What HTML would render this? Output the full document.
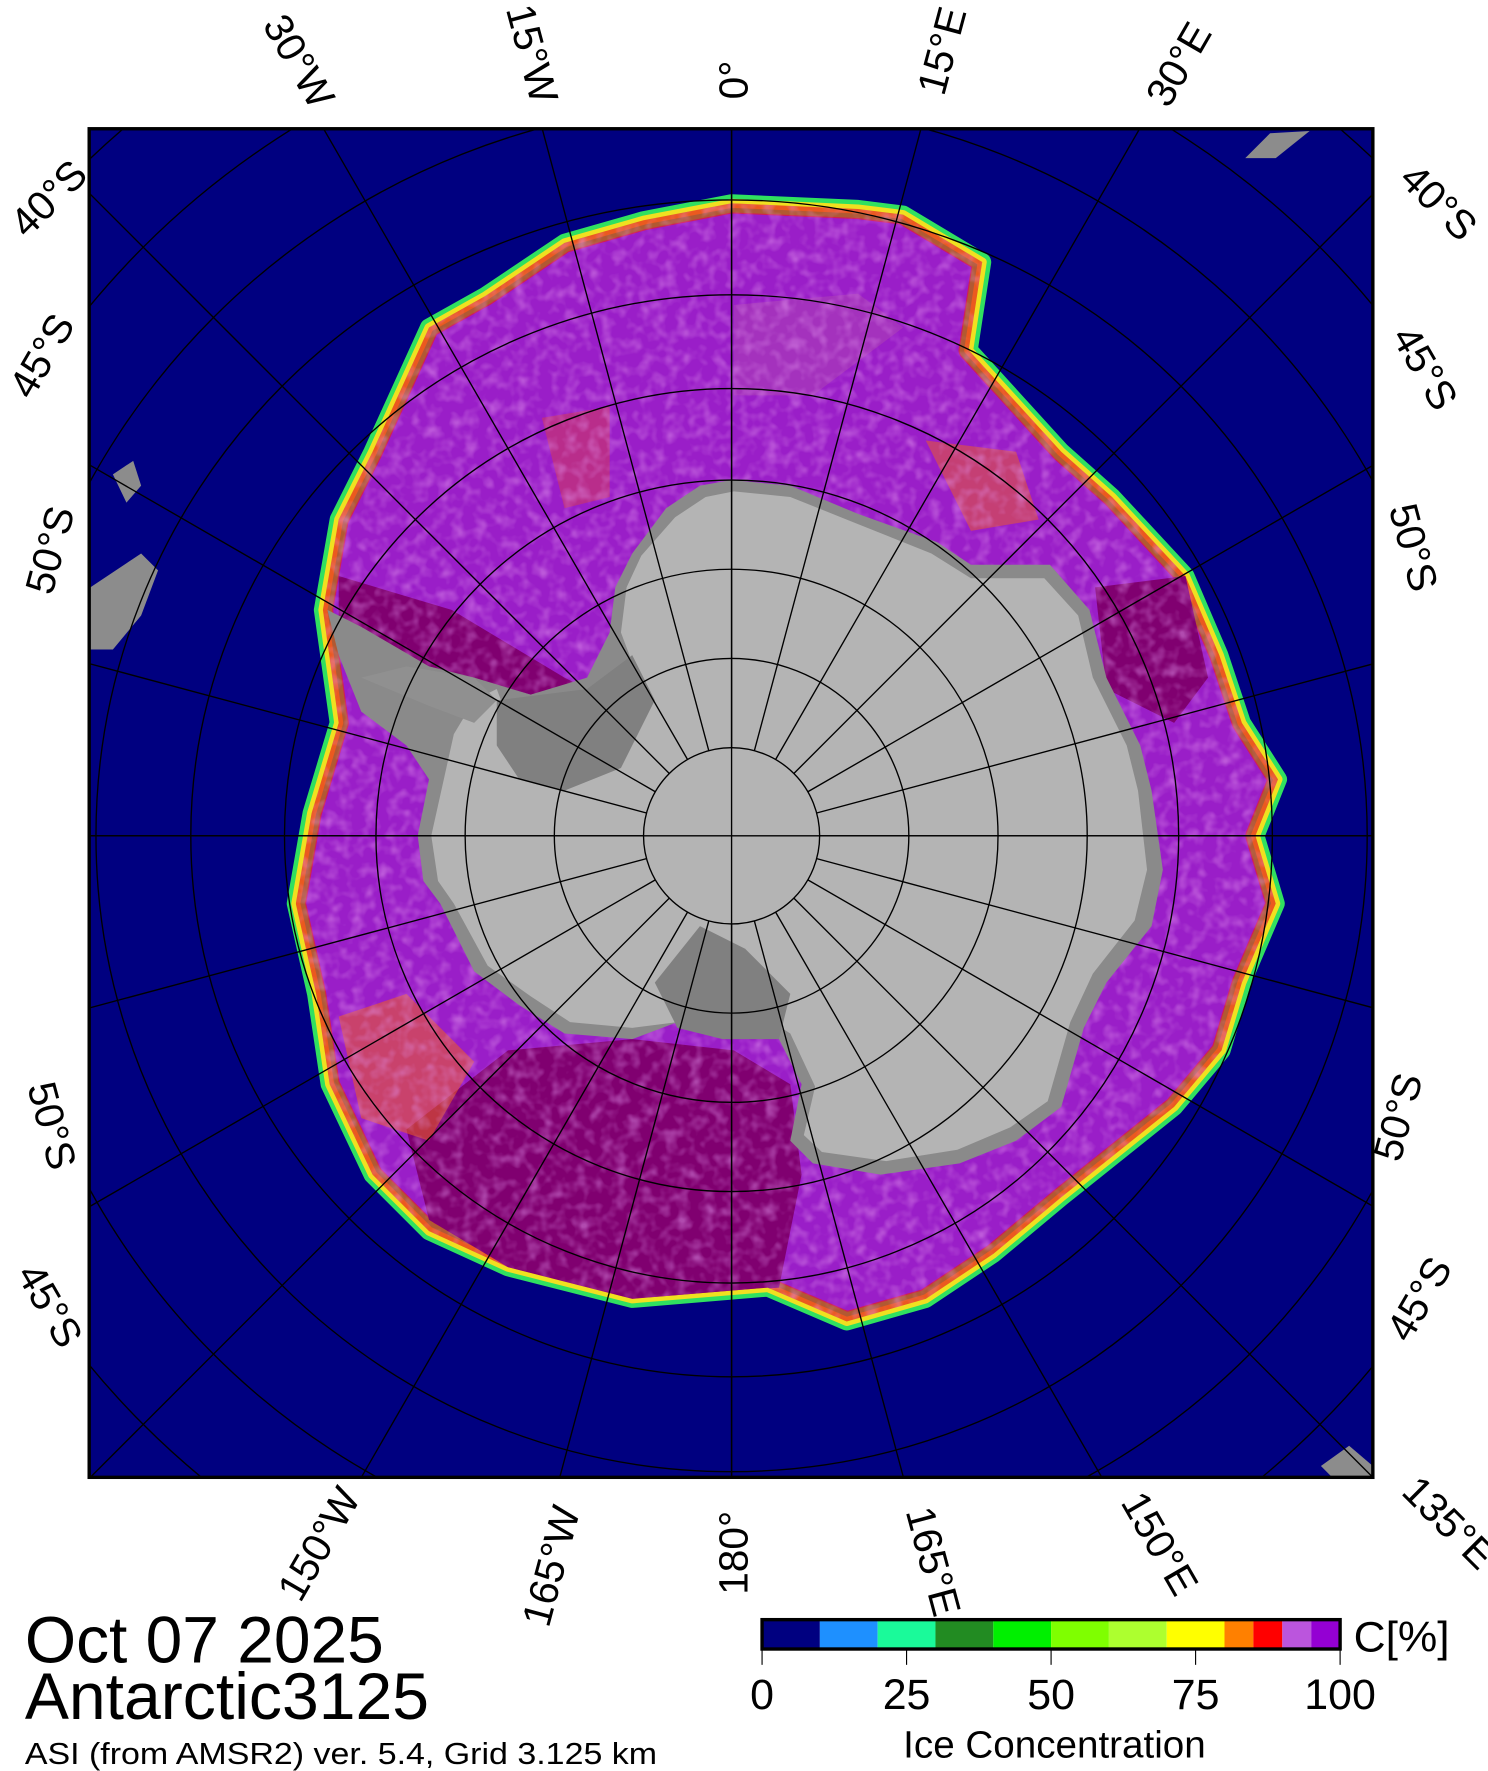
<!DOCTYPE html>
<html><head><meta charset="utf-8"><style>
html,body{margin:0;padding:0;background:#fff;overflow:hidden;width:1488px;height:1771px}
svg{display:block}
text{font-family:"Liberation Sans",sans-serif;fill:#000}
</style></head><body>
<svg width="1488" height="1771" viewBox="0 0 1318 1568" preserveAspectRatio="none" xmlns="http://www.w3.org/2000/svg">
<defs>
<clipPath id="frame"><rect x="79" y="114" width="1137" height="1194"/></clipPath>
<filter id="tex" x="0" y="0" width="100%" height="100%">
<feTurbulence type="fractalNoise" baseFrequency="0.09" numOctaves="2" seed="4"/>
<feColorMatrix type="matrix" values="0 0 0 0 0.75  0 0 0 0 0.3  0 0 0 0 0.85  0 0 0 -2.2 1.25"/>
</filter>
<clipPath id="iceclip"><polygon points="648,180 760,185 800,190 870,232 858,310 940,400 985,440 1050,510 1080,580 1100,640 1132,690 1112,740 1130,800 1100,870 1082,930 1040,980 990,1020 940,1060 880,1110 820,1150 750,1170 680,1140 560,1150 450,1122 380,1090 330,1040 292,960 280,880 262,800 276,720 300,640 286,540 300,460 330,400 380,290 430,262 500,215 570,195"/></clipPath>
</defs>
<rect width="1318" height="1568" fill="#fff"/>
<g clip-path="url(#frame)">
<rect x="79" y="114" width="1137" height="1194" fill="#000080"/>
<polygon points="80,520 125,490 140,505 125,545 100,575 80,575" fill="#8c8c8c"/>
<polygon points="100,420 118,408 125,430 112,445" fill="#8c8c8c"/>
<polygon points="1103,140 1125,118 1160,116 1130,140" fill="#8c8c8c"/>
<polygon points="1170,1298 1195,1280 1216,1298 1216,1308 1180,1308" fill="#8c8c8c"/>
<g>
<polygon points="648,180 760,185 800,190 870,232 858,310 940,400 985,440 1050,510 1080,580 1100,640 1132,690 1112,740 1130,800 1100,870 1082,930 1040,980 990,1020 940,1060 880,1110 820,1150 750,1170 680,1140 560,1150 450,1122 380,1090 330,1040 292,960 280,880 262,800 276,720 300,640 286,540 300,460 330,400 380,290 430,262 500,215 570,195" fill="#9a1ec8" stroke="#30e060" stroke-width="16" stroke-linejoin="round"/>
<polygon points="648,180 760,185 800,190 870,232 858,310 940,400 985,440 1050,510 1080,580 1100,640 1132,690 1112,740 1130,800 1100,870 1082,930 1040,980 990,1020 940,1060 880,1110 820,1150 750,1170 680,1140 560,1150 450,1122 380,1090 330,1040 292,960 280,880 262,800 276,720 300,640 286,540 300,460 330,400 380,290 430,262 500,215 570,195" fill="none" stroke="#f0e020" stroke-width="8" stroke-linejoin="round"/>
<g clip-path="url(#iceclip)">
<polygon points="648,180 760,185 800,190 870,232 858,310 940,400 985,440 1050,510 1080,580 1100,640 1132,690 1112,740 1130,800 1100,870 1082,930 1040,980 990,1020 940,1060 880,1110 820,1150 750,1170 680,1140 560,1150 450,1122 380,1090 330,1040 292,960 280,880 262,800 276,720 300,640 286,540 300,460 330,400 380,290 430,262 500,215 570,195" fill="none" stroke="#e82020" stroke-width="18" stroke-linejoin="round" opacity="0.7"/>
<polygon points="300,510 400,540 500,600 520,610 470,615 380,590 300,560" fill="#800070"/>
<polygon points="360,1000 450,930 560,920 650,930 700,960 710,1040 690,1140 560,1150 450,1122 380,1080" fill="#800070"/>
<polygon points="970,520 1050,510 1070,600 1040,640 980,610" fill="#800070"/>
<polygon points="650,270 760,260 800,290 720,350 650,350" fill="#a83ab8" opacity="0.7"/>
<polygon points="300,900 360,880 420,940 380,1010 320,990" fill="#f06020" opacity="0.55"/>
<polygon points="820,390 900,400 920,460 860,470" fill="#f06020" opacity="0.5"/>
<polygon points="480,370 540,360 540,440 500,450" fill="#e04040" opacity="0.45"/>
<rect x="79" y="114" width="1137" height="1194" filter="url(#tex)" opacity="0.5"/>
</g>
</g>
<polygon points="648,425 700,430 760,455 830,480 860,500 930,500 965,540 980,600 1010,660 1020,700 1030,770 1020,820 980,870 960,910 940,980 900,1010 850,1030 780,1040 720,1030 700,1010 710,960 690,920 650,900 600,905 560,920 500,915 460,890 420,860 390,800 375,780 370,740 380,690 360,660 320,630 300,580 290,540 320,555 380,590 420,600 470,615 520,600 540,560 545,520 560,490 590,450 620,430" fill="#8a8a8a"/>
<polygon points="650,435 700,440 755,462 825,490 860,512 925,512 955,545 968,600 998,660 1008,700 1016,770 1005,815 968,862 948,905 928,975 895,998 848,1018 785,1028 728,1020 712,1005 722,962 700,915 660,890 640,868 620,840 600,870 600,905 560,910 505,905 470,882 432,855 402,800 388,780 382,740 392,695 402,650 420,620 440,610 455,650 460,690 500,700 540,680 560,640 565,600 550,560 555,520 568,492 598,458 625,440" fill="#b4b4b4"/>
<polygon points="440,620 520,610 560,580 580,620 550,680 500,700 460,690 440,660" fill="#808080"/>
<polygon points="580,870 620,820 660,840 700,880 690,920 640,920 600,910" fill="#808080"/>
<polygon points="320,600 380,625 420,640 440,620 420,600 360,590" fill="#909090"/>
<g stroke="#000" stroke-width="1.2" fill="none">
<circle cx="648" cy="740" r="78" fill="#b4b4b4"/>
<circle cx="648" cy="740" r="157"/><circle cx="648" cy="740" r="236"/><circle cx="648" cy="740" r="315"/>
<circle cx="648" cy="740" r="396"/><circle cx="648" cy="740" r="479"/><circle cx="648" cy="740" r="563"/>
<circle cx="648" cy="740" r="649"/><circle cx="648" cy="740" r="737"/><circle cx="648" cy="740" r="826"/>
<g id="mer">
<line x1="648" y1="662" x2="648" y2="-400"/>
<line x1="648" y1="662" x2="648" y2="-400" transform="rotate(15 648 740)"/>
<line x1="648" y1="662" x2="648" y2="-400" transform="rotate(30 648 740)"/>
<line x1="648" y1="662" x2="648" y2="-400" transform="rotate(45 648 740)"/>
<line x1="648" y1="662" x2="648" y2="-400" transform="rotate(60 648 740)"/>
<line x1="648" y1="662" x2="648" y2="-400" transform="rotate(75 648 740)"/>
</g>
<use href="#mer" transform="rotate(90 648 740)"/>
<use href="#mer" transform="rotate(180 648 740)"/>
<use href="#mer" transform="rotate(270 648 740)"/>
<line x1="79" y1="740" x2="1216" y2="740"/>
<line x1="648" y1="114" x2="648" y2="1308"/>
</g>
</g>
<rect x="79" y="114" width="1137" height="1194" fill="none" stroke="#000" stroke-width="3"/>
<g font-size="36">
<text transform="translate(232,22) rotate(60)">30°W</text>
<text transform="translate(448,8) rotate(75)">15°W</text>
<text transform="translate(662,88) rotate(-90)">0°</text>
<text transform="translate(836,86) rotate(-75)">15°E</text>
<text transform="translate(1035,97) rotate(-60)">30°E</text>
<text transform="translate(1238,160) rotate(45)">40°S</text>
<text transform="translate(1232,298) rotate(60)">45°S</text>
<text transform="translate(1230,450) rotate(75)">50°S</text>
<text transform="translate(1240,1030) rotate(-75)">50°S</text>
<text transform="translate(1248,1190) rotate(-60)">45°S</text>
<text transform="translate(24,212) rotate(-45)">40°S</text>
<text transform="translate(28,355) rotate(-60)">45°S</text>
<text transform="translate(46,528) rotate(-75)">50°S</text>
<text transform="translate(24,962) rotate(75)">50°S</text>
<text transform="translate(14,1128) rotate(60)">45°S</text>
<text transform="translate(266,1420) rotate(-60)">150°W</text>
<text transform="translate(486,1442) rotate(-75)">165°W</text>
<text transform="translate(662,1412) rotate(-90)">180°</text>
<text transform="translate(802,1338) rotate(75)">165°E</text>
<text transform="translate(992,1330) rotate(60)">150°E</text>
<text transform="translate(1240,1322) rotate(45)">135°E</text>
</g>
<text x="22" y="1472" font-size="58" textLength="318" lengthAdjust="spacingAndGlyphs">Oct 07 2025</text>
<text x="22" y="1522" font-size="58" textLength="358" lengthAdjust="spacingAndGlyphs">Antarctic3125</text>
<text x="22" y="1562" font-size="27" textLength="560" lengthAdjust="spacingAndGlyphs">ASI (from AMSR2) ver. 5.4,  Grid 3.125 km</text>
<g>
<rect x="675" y="1434" width="51.2" height="26" fill="#000080"/>
<rect x="726.2" y="1434" width="51.2" height="26" fill="#1e90ff"/>
<rect x="777.4" y="1434" width="51.2" height="26" fill="#1afa9a"/>
<rect x="828.6" y="1434" width="51.2" height="26" fill="#228b22"/>
<rect x="879.8" y="1434" width="51.2" height="26" fill="#00f000"/>
<rect x="931" y="1434" width="51.2" height="26" fill="#7fff00"/>
<rect x="982.2" y="1434" width="51.2" height="26" fill="#adff2f"/>
<rect x="1033.4" y="1434" width="51.2" height="26" fill="#ffff00"/>
<rect x="1084.6" y="1434" width="25.6" height="26" fill="#ff8000"/>
<rect x="1110.2" y="1434" width="25.6" height="26" fill="#ff0000"/>
<rect x="1135.8" y="1434" width="25.6" height="26" fill="#bb55dd"/>
<rect x="1161.4" y="1434" width="25.6" height="26" fill="#9400d3"/>
<rect x="675" y="1434" width="512" height="26" fill="none" stroke="#000" stroke-width="3"/>
<g stroke="#000" stroke-width="1"><line x1="675" y1="1460" x2="675" y2="1474"/><line x1="803" y1="1460" x2="803" y2="1474"/><line x1="931" y1="1460" x2="931" y2="1474"/><line x1="1059" y1="1460" x2="1059" y2="1474"/><line x1="1187" y1="1460" x2="1187" y2="1474"/></g>
<g font-size="38" text-anchor="middle">
<text x="675" y="1513">0</text><text x="803" y="1513">25</text><text x="931" y="1513">50</text><text x="1059" y="1513">75</text><text x="1187" y="1513">100</text>
</g>
<text x="1199" y="1462" font-size="38" textLength="85" lengthAdjust="spacingAndGlyphs">C[%]</text>
<text x="800" y="1556" font-size="34" textLength="268" lengthAdjust="spacingAndGlyphs">Ice Concentration</text>
</g>
</svg>
</body></html>
